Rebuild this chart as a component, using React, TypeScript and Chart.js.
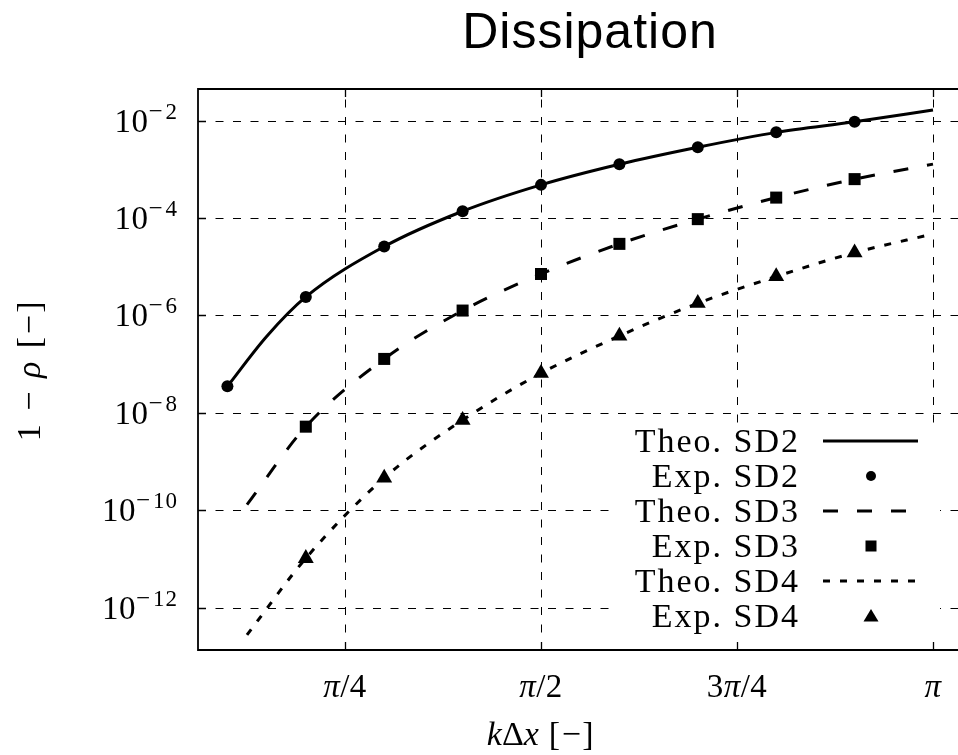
import React, { useEffect, useRef } from 'react';
import { Chart, registerables } from 'chart.js';

Chart.register(...registerables);

const SERIF = '"Liberation Serif", "Times New Roman", serif';
const SANS = '"Liberation Sans", Arial, Helvetica, sans-serif';

// ---- Data (x in units of pi) ----
const xTheoSD2 = [0.1, 0.15, 0.2, 0.3, 0.4, 0.5, 0.6, 0.7, 0.8, 0.9, 1.0];
const theoSD2 = [3.5e-8, 3.7e-7, 2.4e-6, 2.6e-5, 1.38e-4, 4.8e-4, 1.27e-3, 2.84e-3, 5.75e-3, 9.5e-3, 1.66e-2];

const xExpSD2 = [0.1, 0.2, 0.3, 0.4, 0.5, 0.6, 0.7, 0.8, 0.9];
const expSD2 = [3.5e-8, 2.4e-6, 2.6e-5, 1.38e-4, 4.8e-4, 1.27e-3, 2.84e-3, 5.75e-3, 9.5e-3];

const xTheoHigh = [0.125, 0.2, 0.3, 0.4, 0.5, 0.6, 0.7, 0.8, 0.9, 1.0];
const theoSD3 = [1.3e-10, 5.2e-9, 1.28e-7, 1.26e-6, 7.1e-6, 2.95e-5, 9.5e-5, 2.63e-4, 6.3e-4, 1.28e-3];
const theoSD4 = [2.75e-13, 1.03e-11, 4.6e-10, 7.1e-9, 6.5e-8, 3.8e-7, 1.78e-6, 6.3e-6, 1.95e-5, 4.7e-5];

const xExpHigh = [0.2, 0.3, 0.4, 0.5, 0.6, 0.7, 0.8, 0.9];
const expSD3 = [5.2e-9, 1.28e-7, 1.26e-6, 7.1e-6, 2.95e-5, 9.5e-5, 2.63e-4, 6.3e-4];
const expSD4 = [1.03e-11, 4.6e-10, 7.1e-9, 6.5e-8, 3.8e-7, 1.78e-6, 6.3e-6, 1.95e-5];

const xTickValues = [0.25, 0.5, 0.75, 1.0];
const xTickLabels = ['π/4', 'π/2', '3π/4', 'π'];
const yTickExponents = [-2, -4, -6, -8, -10, -12];

const legendLabels = ['Theo. SD2', 'Exp. SD2', 'Theo. SD3', 'Exp. SD3', 'Theo. SD4', 'Exp. SD4'];
const titleText = 'Dissipation';

const X_MIN = 1 / 16;
const X_MAX = 17 / 16;
const Y_MIN = Math.pow(10, -12.87);
const Y_MAX = Math.pow(10, -1.35);

const DASH_SD3 = [15, 19];
const DASH_SD4 = [7, 10];
const LINE_W = 3;

type Run = { t: string; it?: boolean; size: number; dy?: number; sp?: number };

function fontFor(r: Run) {
  return `${r.it ? 'italic ' : ''}${r.size}px ${SERIF}`;
}

function drawRuns(ctx: CanvasRenderingContext2D, runs: Run[], x: number, y: number, align: 'left' | 'center' | 'right', spacing = 0) {
  ctx.save();
  ctx.textAlign = 'left';
  ctx.textBaseline = 'alphabetic';
  let total = 0;
  const widths = runs.map((r) => {
    (ctx as any).letterSpacing = `${r.sp !== undefined ? r.sp : spacing}px`;
    ctx.font = fontFor(r);
    const w = ctx.measureText(r.t).width;
    total += w;
    return w;
  });
  let cx = align === 'left' ? x : align === 'center' ? x - total / 2 : x - total;
  runs.forEach((r, i) => {
    (ctx as any).letterSpacing = `${r.sp !== undefined ? r.sp : spacing}px`;
    ctx.font = fontFor(r);
    ctx.fillText(r.t, cx, y - (r.dy || 0));
    cx += widths[i];
  });
  ctx.restore();
}

function piRuns(label: string, size: number): Run[] {
  const runs: Run[] = [];
  for (const ch of label) {
    runs.push({ t: ch, it: ch === 'π', size });
  }
  return runs;
}

const overlayPlugin = {
  id: 'overlay',
  beforeDatasetsDraw(chart: any) {
    const { ctx, chartArea: a, scales } = chart;
    const xs = scales.x;
    const ys = scales.y;
    ctx.save();
    ctx.strokeStyle = '#000';
    ctx.lineWidth = 1;
    ctx.setLineDash([8, 9.5]);
    for (const v of xTickValues) {
      const px = Math.round(xs.getPixelForValue(v)) + 0.5;
      ctx.beginPath();
      ctx.moveTo(px, a.bottom);
      ctx.lineTo(px, a.top);
      ctx.stroke();
    }
    for (const e of yTickExponents) {
      const py = Math.round(ys.getPixelForValue(Math.pow(10, e))) + 0.5;
      ctx.beginPath();
      ctx.moveTo(a.left, py);
      ctx.lineTo(a.right, py);
      ctx.stroke();
    }
    ctx.restore();
  },
  afterDatasetsDraw(chart: any) {
    const { ctx, chartArea: a, scales } = chart;
    const xs = scales.x;
    const ys = scales.y;
    ctx.save();

    // Legend box (opaque)
    const lbLeft = 611;
    const lbTop = 423;
    const lbRight = 940;
    ctx.fillStyle = '#fff';
    ctx.fillRect(lbLeft, lbTop, lbRight - lbLeft, a.bottom - lbTop);

    // Legend entries
    ctx.fillStyle = '#000';
    ctx.strokeStyle = '#000';
    legendLabels.forEach((lab, i) => {
      const cy = 441 + 35 * i;
      drawRuns(ctx, [{ t: lab, size: 34 }], 800, cy + 11, 'right', 2);
      const sx0 = 823;
      const sx1 = 918;
      const mx = 871;
      ctx.save();
      ctx.lineWidth = LINE_W;
      if (i === 0 || i === 2 || i === 4) {
        ctx.setLineDash(i === 0 ? [] : i === 2 ? DASH_SD3 : DASH_SD4);
        ctx.beginPath();
        ctx.moveTo(sx0, cy);
        ctx.lineTo(sx1, cy);
        ctx.stroke();
      } else if (i === 1) {
        ctx.beginPath();
        ctx.arc(mx, cy, 5, 0, Math.PI * 2);
        ctx.fill();
      } else if (i === 3) {
        ctx.fillRect(mx - 5.5, cy - 5.5, 11, 11);
      } else {
        ctx.beginPath();
        ctx.moveTo(mx, cy - 7);
        ctx.lineTo(mx + 7.5, cy + 5.5);
        ctx.lineTo(mx - 7.5, cy + 5.5);
        ctx.closePath();
        ctx.fill();
      }
      ctx.restore();
    });

    // Frame
    ctx.strokeStyle = '#000';
    ctx.lineWidth = 1.8;
    ctx.setLineDash([]);
    ctx.beginPath();
    ctx.moveTo(a.right, a.top);
    ctx.lineTo(a.left, a.top);
    ctx.lineTo(a.left, a.bottom);
    ctx.lineTo(a.right, a.bottom);
    ctx.lineTo(a.right, a.top);
    ctx.stroke();

    // Inner tick marks
    ctx.lineWidth = 1.3;
    const TL = 8;
    for (const v of xTickValues) {
      const px = Math.round(xs.getPixelForValue(v)) + 0.5;
      ctx.beginPath();
      ctx.moveTo(px, a.bottom);
      ctx.lineTo(px, a.bottom - TL);
      ctx.moveTo(px, a.top);
      ctx.lineTo(px, a.top + TL);
      ctx.stroke();
    }
    for (const e of yTickExponents) {
      const py = Math.round(ys.getPixelForValue(Math.pow(10, e))) + 0.5;
      ctx.beginPath();
      ctx.moveTo(a.left, py);
      ctx.lineTo(a.left + TL, py);
      ctx.moveTo(a.right, py);
      ctx.lineTo(a.right - TL, py);
      ctx.stroke();
    }

    // Tick labels
    ctx.fillStyle = '#000';
    xTickValues.forEach((v, i) => {
      const px = xs.getPixelForValue(v);
      drawRuns(ctx, piRuns(xTickLabels[i], 33), px, a.bottom + 47, 'center', 0.5);
    });
    yTickExponents.forEach((e) => {
      const py = ys.getPixelForValue(Math.pow(10, e));
      drawRuns(
        ctx,
        [
          { t: '10', size: 33, sp: 0.5 },
          { t: '−', size: 25, dy: 13, sp: 3 },
          { t: String(Math.abs(e)), size: 23, dy: 13, sp: 1 },
        ],
        178,
        py + 11,
        'right'
      );
    });

    // Axis titles
    drawRuns(
      ctx,
      [
        { t: 'k', it: true, size: 34 },
        { t: 'Δ', size: 34 },
        { t: 'x', it: true, size: 34 },
        { t: ' [−]', size: 34, sp: 1.5 },
      ],
      541,
      745,
      'center'
    );
    ctx.save();
    ctx.translate(40, 370);
    ctx.rotate(-Math.PI / 2);
    drawRuns(
      ctx,
      [
        { t: '1 − ', size: 34 },
        { t: 'ρ', it: true, size: 34 },
        { t: ' [−]', size: 34 },
      ],
      0,
      0,
      'center',
      2.5
    );
    ctx.restore();

    // Title
    ctx.save();
    (ctx as any).letterSpacing = '1px';
    ctx.font = `50px ${SANS}`;
    ctx.textAlign = 'center';
    ctx.textBaseline = 'alphabetic';
    ctx.fillStyle = '#000';
    ctx.fillText(titleText, 590, 48);
    ctx.restore();

    ctx.restore();
  },
};

function pts(xs: number[], ys: number[]) {
  return xs.map((x, i) => ({ x, y: ys[i] }));
}

export default function App() {
  const ref = useRef<HTMLCanvasElement | null>(null);
  useEffect(() => {
    if (!ref.current) return;
    const theo = (label: string, xs: number[], ys: number[], dash: number[]) => ({
      label,
      data: pts(xs, ys),
      borderColor: '#000',
      backgroundColor: '#000',
      borderWidth: LINE_W,
      borderDash: dash,
      pointRadius: 0,
      cubicInterpolationMode: 'monotone' as const,
      fill: false,
    });
    const exp = (label: string, xs: number[], ys: number[], style: string, r: number) => ({
      label,
      data: pts(xs, ys),
      showLine: false,
      borderColor: '#000',
      backgroundColor: '#000',
      pointStyle: style,
      pointRadius: r,
      pointBorderWidth: 0,
      pointBackgroundColor: '#000',
      pointBorderColor: '#000',
    });
    const chart = new Chart(ref.current, {
      type: 'line',
      data: {
        datasets: [
          theo('Theo. SD2', xTheoSD2, theoSD2, []),
          exp('Exp. SD2', xExpSD2, expSD2, 'circle', 6),
          theo('Theo. SD3', xTheoHigh, theoSD3, DASH_SD3),
          exp('Exp. SD3', xExpHigh, expSD3, 'rect', 8.5),
          theo('Theo. SD4', xTheoHigh, theoSD4, DASH_SD4),
          exp('Exp. SD4', xExpHigh, expSD4, 'triangle', 9.2),
        ] as any,
      },
      options: {
        responsive: false,
        maintainAspectRatio: false,
        animation: false,
        layout: { padding: { left: 198, top: 89, right: 18, bottom: 105 } },
        scales: {
          x: { type: 'linear', min: X_MIN, max: X_MAX, display: false },
          y: { type: 'logarithmic', min: Y_MIN, max: Y_MAX, display: false },
        },
        plugins: {
          legend: { display: false },
          tooltip: { enabled: false },
          title: { display: false },
        },
        events: [],
      },
      plugins: [overlayPlugin],
    });
    return () => chart.destroy();
  }, []);
  return (
    <div style={{ position: 'fixed', left: 0, top: 0, width: 958, height: 755, overflow: 'hidden', background: '#fff' }}>
      <canvas ref={ref} width={1000} height={755} style={{ display: 'block', width: 1000, height: 755 }} />
    </div>
  );
}
